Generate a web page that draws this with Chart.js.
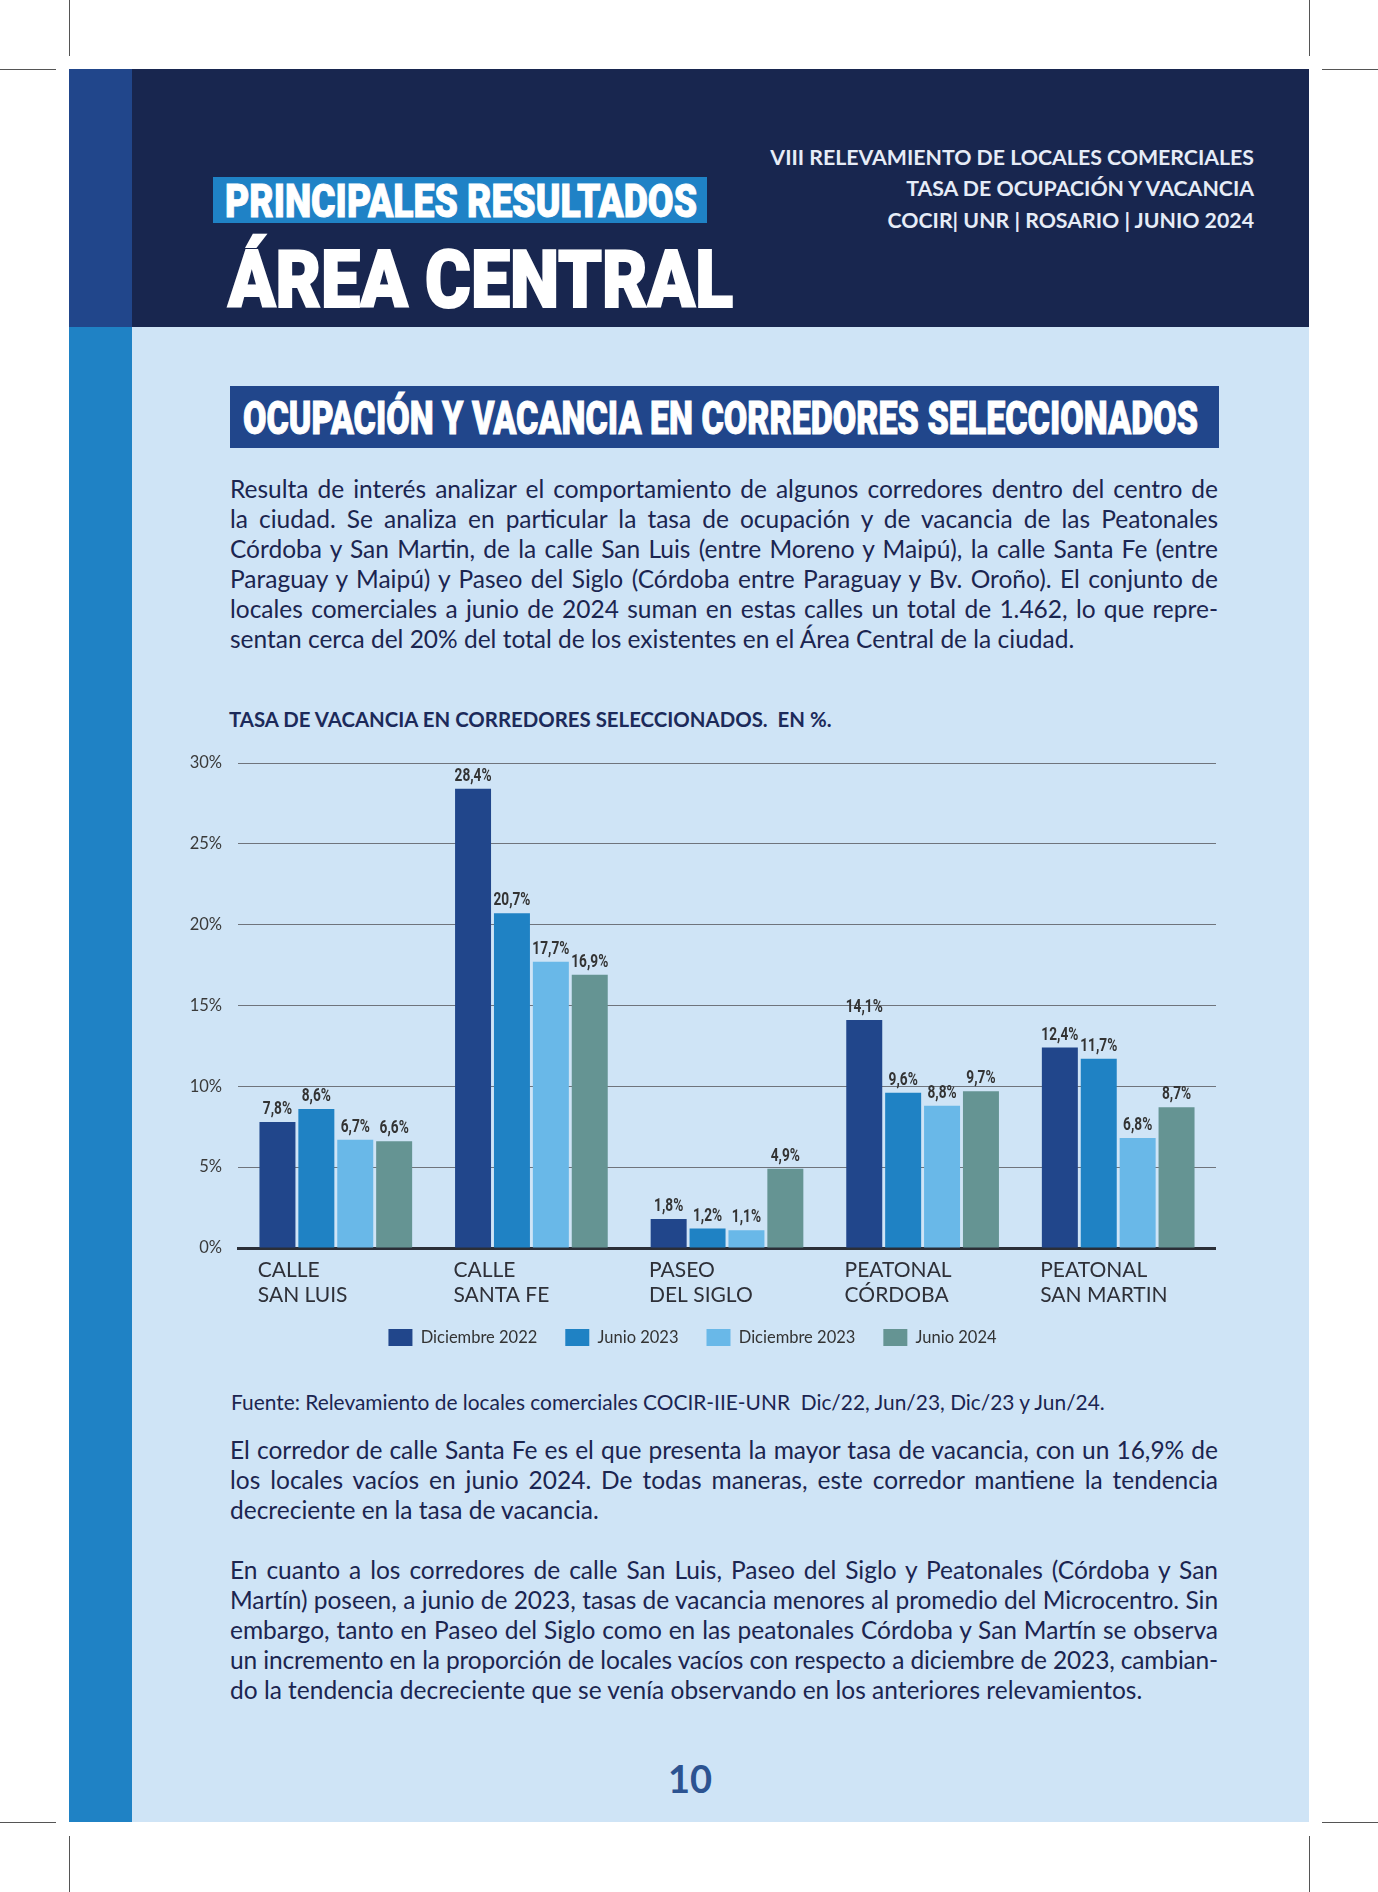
<!DOCTYPE html>
<html lang="es">
<head>
<meta charset="utf-8">
<script src="https://cdn.jsdelivr.net/npm/chart.js@4.4.1/dist/chart.umd.min.js"></script>
<style>
html,body{margin:0;padding:0;background:#fff;}
body{width:1378px;height:1892px;position:relative;overflow:hidden;font-family:Lato,"Noto Sans",sans-serif;}
.abs{position:absolute;}
.mark{position:absolute;background:#555;}
.cond{font-family:Roboto,sans-serif;font-weight:900;white-space:nowrap;transform-origin:0 50%;display:inline-block;color:#fff;-webkit-text-stroke:1px #fff;}
.para{position:absolute;left:230px;width:988px;font-size:24.5px;color:#1B2550;}
.para .ln{height:30px;line-height:30px;text-align:justify;text-align-last:justify;white-space:nowrap;}
.para .ln.last{text-align-last:left;}
</style>
</head>
<body>
<!-- crop marks -->
<div class="mark" style="left:69px;top:0;width:1px;height:56px"></div>
<div class="mark" style="left:1309px;top:0;width:1px;height:56px"></div>
<div class="mark" style="left:0;top:69px;width:56px;height:1px"></div>
<div class="mark" style="left:1322px;top:69px;width:56px;height:1px"></div>
<div class="mark" style="left:69px;top:1836px;width:1px;height:56px"></div>
<div class="mark" style="left:1309px;top:1836px;width:1px;height:56px"></div>
<div class="mark" style="left:0;top:1822px;width:56px;height:1px"></div>
<div class="mark" style="left:1322px;top:1822px;width:56px;height:1px"></div>

<div class="abs" style="left:69px;top:69px;width:1240px;height:1753px;background:#CFE4F6"></div>
<div class="abs" style="left:69px;top:69px;width:1240px;height:258px;background:#18264F"></div>
<div class="abs" style="left:69px;top:69px;width:63px;height:258px;background:#21468B"></div>
<div class="abs" style="left:69px;top:327px;width:63px;height:1495px;background:#1F82C5"></div>

<!-- header -->
<div class="abs" style="left:213px;top:177px;width:494px;height:46px;background:#1F82C6"></div>
<div class="abs" style="left:225px;top:177px;height:46px;line-height:46px;font-size:46px">
  <span class="cond fit" data-w="472" style="line-height:46px">PRINCIPALES RESULTADOS</span>
</div>
<div class="abs" style="left:228px;top:236px;height:80px;line-height:80px;font-size:80px">
  <span class="cond fit" data-w="505" style="line-height:80px;-webkit-text-stroke:2px #fff">ÁREA CENTRAL</span>
</div>
<div class="abs" style="left:0;width:1254px;font-weight:700;font-size:21.3px;color:#E6ECF7;line-height:30px">
  <div style="position:absolute;right:0;top:142px;white-space:nowrap">VIII RELEVAMIENTO DE LOCALES COMERCIALES</div>
  <div style="position:absolute;right:0;top:173px;white-space:nowrap">TASA DE OCUPACIÓN Y VACANCIA</div>
  <div style="position:absolute;right:0;top:205px;white-space:nowrap">COCIR| UNR | ROSARIO | JUNIO 2024</div>
</div>

<!-- section heading -->
<div class="abs" style="left:230px;top:386px;width:989px;height:62px;background:#21468B"></div>
<div class="abs" style="left:243px;top:386px;height:62px;line-height:62px;font-size:46px">
  <span class="cond fit" data-w="955" style="line-height:62px">OCUPACIÓN Y VACANCIA EN CORREDORES SELECCIONADOS</span>
</div>

<div class="para" style="top:474px">
  <div class="ln">Resulta de interés analizar el comportamiento de algunos corredores dentro del centro de</div>
  <div class="ln">la ciudad. Se analiza en particular la tasa de ocupación y de vacancia de las Peatonales</div>
  <div class="ln">Córdoba y San Martin, de la calle San Luis (entre Moreno y Maipú), la calle Santa Fe (entre</div>
  <div class="ln">Paraguay y Maipú) y Paseo del Siglo (Córdoba entre Paraguay y Bv. Oroño). El conjunto de</div>
  <div class="ln">locales comerciales a junio de 2024 suman en estas calles un total de 1.462, lo que repre-</div>
  <div class="ln last">sentan cerca del 20% del total de los existentes en el Área Central de la ciudad.</div>
</div>

<div class="abs" style="left:229px;top:704px;line-height:30px;font-size:20.4px;font-weight:700;color:#1C2A5A;white-space:nowrap">TASA DE VACANCIA EN CORREDORES SELECCIONADOS.&nbsp; EN %.</div>

<div class="abs" style="left:169px;top:745px;width:1047px;height:624px">
  <canvas id="chart" width="1047" height="624"></canvas>
</div>

<div class="abs" style="left:231px;top:1387px;line-height:30px;font-size:20.9px;color:#1B2550;white-space:nowrap">Fuente: Relevamiento de locales comerciales COCIR-IIE-UNR&nbsp; Dic/22, Jun/23, Dic/23 y Jun/24.</div>

<div class="para" style="top:1435px">
  <div class="ln">El corredor de calle Santa Fe es el que presenta la mayor tasa de vacancia, con un 16,9% de</div>
  <div class="ln">los locales vacíos en junio 2024. De todas maneras, este corredor mantiene la tendencia</div>
  <div class="ln last">decreciente en la tasa de vacancia.</div>
</div>

<div class="para" style="top:1555px">
  <div class="ln">En cuanto a los corredores de calle San Luis, Paseo del Siglo y Peatonales (Córdoba y San</div>
  <div class="ln">Martín) poseen, a junio de 2023, tasas de vacancia menores al promedio del Microcentro. Sin</div>
  <div class="ln">embargo, tanto en Paseo del Siglo como en las peatonales Córdoba y San Martín se observa</div>
  <div class="ln">un incremento en la proporción de locales vacíos con respecto a diciembre de 2023, cambian-</div>
  <div class="ln last">do la tendencia decreciente que se venía observando en los anteriores relevamientos.</div>
</div>

<div class="abs" style="left:640px;width:100px;top:1758px;line-height:40px;text-align:center;font-size:38px;font-weight:700;color:#2C5391">10</div>

<script>
// ---------- data ----------
const categories = [
  ['CALLE', 'SAN LUIS'],
  ['CALLE', 'SANTA FE'],
  ['PASEO', 'DEL SIGLO'],
  ['PEATONAL', 'CÓRDOBA'],
  ['PEATONAL', 'SAN MARTIN']
];
const seriesNames = ['Diciembre 2022', 'Junio 2023', 'Diciembre 2023', 'Junio 2024'];
const dic2022 = [7.8, 28.4, 1.8, 14.1, 12.4];
const jun2023 = [8.6, 20.7, 1.2, 9.6, 11.7];
const dic2023 = [6.7, 17.7, 1.1, 8.8, 6.8];
const jun2024 = [6.6, 16.9, 4.9, 9.7, 8.7];
const yTicks = [0, 5, 10, 15, 20, 25, 30];
const seriesColors = ['#21468B', '#1F82C4', '#69B8E8', '#659493'];

// ---------- text fitting ----------
document.querySelectorAll('.fit').forEach(el => {
  const w = el.getBoundingClientRect().width;
  const t = parseFloat(el.dataset.w);
  el.style.transform = 'scaleX(' + (t / w) + ')';
});
document.querySelectorAll('.para .ln').forEach(ln => {
  const span = document.createElement('span');
  span.textContent = ln.textContent;
  const probe = document.createElement('div');
  probe.style.cssText = 'position:absolute;left:0;top:0;visibility:hidden;white-space:nowrap;font-size:24.5px;font-family:Lato,"Noto Sans",sans-serif;';
  probe.appendChild(span);
  document.body.appendChild(probe);
  const w = span.getBoundingClientRect().width;
  document.body.removeChild(probe);
  if (w > 985) {
    const n = ln.textContent.length;
    ln.style.letterSpacing = (-(w - 985) / n) + 'px';
  }
});

// ---------- chart ----------
const fmt = v => v.toFixed(1).replace('.', ',') + '%';

const valueLabels = {
  id: 'valueLabels',
  afterDatasetsDraw(chart) {
    const ctx = chart.ctx;
    ctx.save();
    ctx.font = '700 18px Roboto';
    ctx.fillStyle = '#333333';
    ctx.textAlign = 'center';
    ctx.textBaseline = 'middle';
    chart.data.datasets.forEach((ds, i) => {
      const meta = chart.getDatasetMeta(i);
      meta.data.forEach((bar, j) => {
        ctx.save();
        ctx.translate(bar.x, bar.y - 12.5);
        ctx.scale(0.76, 1);
        ctx.fillText(fmt(ds.data[j]), 0, 0);
        ctx.restore();
      });
    });
    ctx.restore();
  }
};

// pull the legend up closer to the category labels
const legendShift = {
  id: 'legendShift',
  afterLayout(chart) {
    if (chart.legend) {
      chart.legend.top -= 9;
      chart.legend.bottom -= 9;
    }
  }
};

const allSeries = [dic2022, jun2023, dic2023, jun2024];
new Chart(document.getElementById('chart'), {
  type: 'bar',
  data: {
    labels: categories,
    datasets: allSeries.map((d, i) => ({
      label: seriesNames[i],
      data: d,
      backgroundColor: seriesColors[i],
      borderWidth: 0,
      categoryPercentage: 0.7955,
      barPercentage: 0.925
    }))
  },
  options: {
    responsive: false,
    animation: false,
    layout: { padding: { top: 18, right: 0, bottom: 4, left: 0 } },
    plugins: {
      title: { display: false },
      tooltip: { enabled: false },
      legend: {
        position: 'bottom',
        align: 'center',
        labels: {
          boxWidth: 24,
          boxHeight: 17,
          padding: 28,
          color: '#333',
          font: { family: 'Lato', size: 16.5 }
        }
      }
    },
    scales: {
      x: {
        grid: { display: false, drawTicks: false },
        border: { display: true, color: '#2B2F38', width: 3 },
        ticks: {
          align: 'start',
          labelOffset: -78,
          padding: 10,
          maxRotation: 0,
          minRotation: 0,
          autoSkip: true,
          color: '#2E3038',
          font: { family: 'Lato', size: 21, lineHeight: '25px' }
        },
        afterFit: s => { s.height = 62; s.paddingLeft = 0; s.paddingRight = 0; }
      },
      y: {
        min: 0,
        max: 30,
        afterBuildTicks: s => { s.ticks = yTicks.map(v => ({ value: v })); },
        grid: { color: '#6F747C', lineWidth: 1, drawTicks: false },
        border: { display: false },
        ticks: {
          padding: 16,
          color: '#3A3A3A',
          font: { family: 'Lato', size: 16.5 },
          callback: v => v + '%'
        },
        afterFit: s => { s.width = 69; s.paddingTop = 0; s.paddingBottom = 0; }
      }
    }
  },
  plugins: [valueLabels, legendShift]
});
</script>
</body>
</html>
